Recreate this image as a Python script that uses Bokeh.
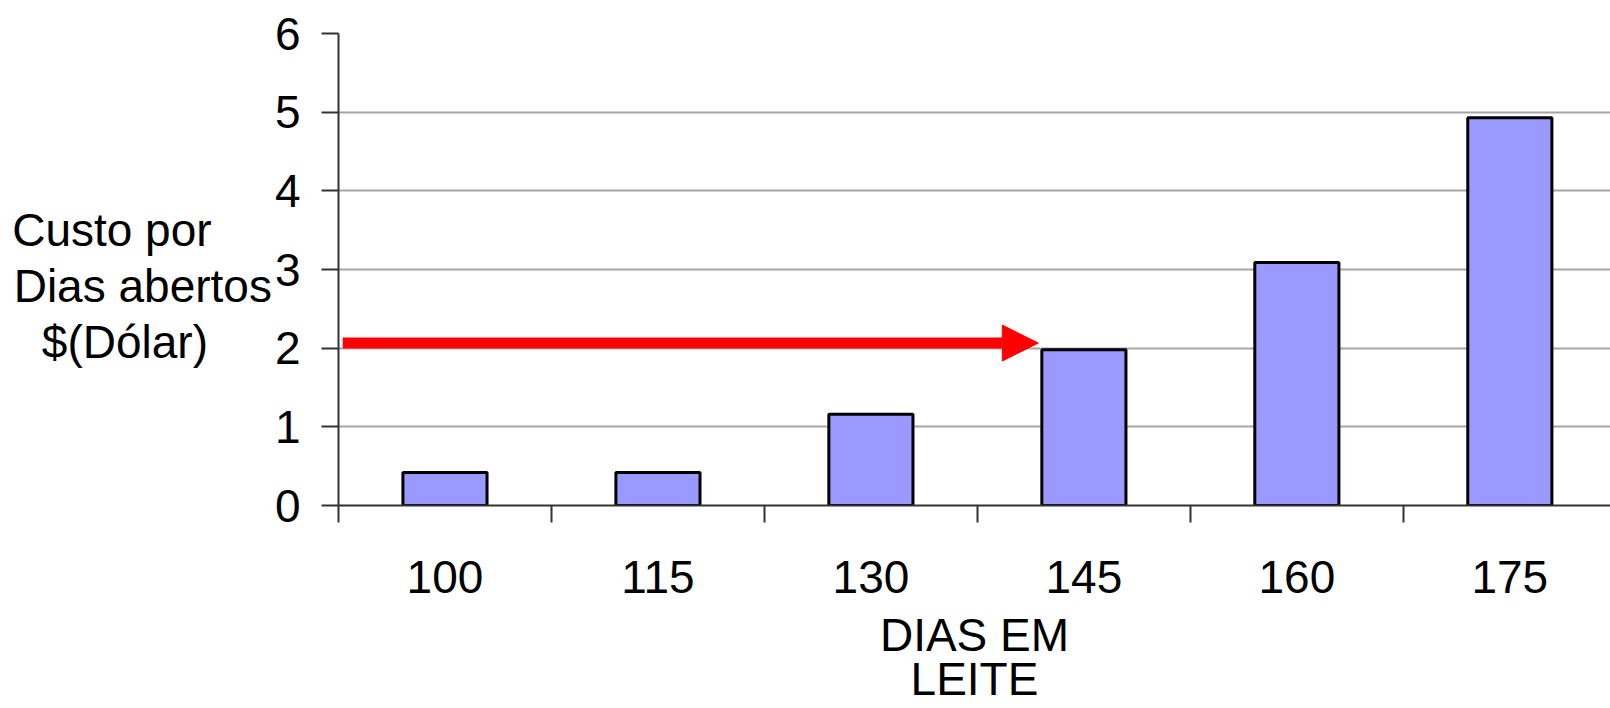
from bokeh.plotting import figure
from bokeh.models import Range1d, FixedTicker, Arrow, NormalHead
from bokeh.embed import file_html
from bokeh.resources import INLINE

# Dias em leite (categorias) e custo por dia aberto, em dólar
categories = ["100", "115", "130", "145", "160", "175"]
custo = [0.42, 0.42, 1.16, 1.98, 3.09, 4.93]
y_ticks = [0, 1, 2, 3, 4, 5, 6]

# seta de destaque: nível de custo e posição final (índice de categoria)
arrow_level = 2.065
arrow_from = -0.48
arrow_to = 2.786

FONT = "Liberation Sans"
FS = "46px"
NBSP = "\u00a0"

# geometria da área de plotagem em pixels
LEFT, TOP, BOTTOM_PX, W, H = 338, 33, 505, 1610, 708
CAT_PX = 212.97
X0 = -0.5
X1 = X0 + (W - LEFT) / CAT_PX

p = figure(width=W, height=H, x_range=Range1d(X0, X1), y_range=Range1d(0, 6),
           output_backend="svg", toolbar_location=None,
           min_border_left=LEFT, min_border_right=0,
           min_border_top=TOP, min_border_bottom=H - BOTTOM_PX)
p.outline_line_color = None
p.background_fill_color = "white"
p.border_fill_color = "white"

xs = list(range(len(categories)))
p.vbar(x=xs, top=custo, bottom=0, width=0.395,
       fill_color="#9999FF", line_color="black", line_width=3)

# eixo x: rótulos no centro das categorias, marcas entre elas
xa = p.xaxis[0]
xa.ticker = FixedTicker(ticks=xs, minor_ticks=[i - 0.5 for i in range(len(categories) + 1)])
xa.major_label_overrides = {i: c for i, c in enumerate(categories)}
xa.major_tick_out = 0
xa.major_tick_in = 0
xa.minor_tick_out = 17
xa.minor_tick_in = 0
xa.minor_tick_line_color = "#333333"
xa.minor_tick_line_width = 2
xa.axis_line_color = "#333333"
xa.axis_line_width = 2
xa.major_label_standoff = 38
xa.major_label_text_font = FONT
xa.major_label_text_font_size = FS
xa.major_label_text_color = "black"
xa.axis_label = "DIAS EM\nLEITE"
xa.axis_label_standoff = 13
xa.axis_label_text_font = FONT
xa.axis_label_text_font_size = FS
xa.axis_label_text_font_style = "normal"
xa.axis_label_text_color = "black"
xa.axis_label_text_line_height = 0.86

ya = p.yaxis[0]
ya.ticker = FixedTicker(ticks=y_ticks)
ya.major_tick_out = 17
ya.major_tick_in = 0
ya.minor_tick_out = 0
ya.minor_tick_in = 0
ya.major_tick_line_color = "#333333"
ya.major_tick_line_width = 2
ya.axis_line_color = "#333333"
ya.axis_line_width = 2
ya.major_label_standoff = 21
ya.major_label_text_font = FONT
ya.major_label_text_font_size = FS
ya.major_label_text_color = "black"
# título em três linhas, centrado no topo do eixo; as linhas vazias iniciais
# o empurram para baixo até a altura do valor 3; espaços finais alinham à esquerda
ya.axis_label = ("\n" * 9 + "Custo por" + NBSP * 4 + "\u2009" +
                 "\nDias abertos" +
                 "\n$(Dólar)" + NBSP * 5)
ya.axis_label_orientation = "horizontal"
ya.axis_label_align = "end"
ya.axis_label_standoff = 0
ya.axis_label_text_font = FONT
ya.axis_label_text_font_size = FS
ya.axis_label_text_font_style = "normal"
ya.axis_label_text_color = "black"
ya.axis_label_text_line_height = 1.078

p.xgrid.grid_line_color = None
p.ygrid.ticker = FixedTicker(ticks=y_ticks)
p.ygrid.grid_line_color = "#a6a6a6"
p.ygrid.grid_line_width = 2

p.add_layout(Arrow(end=NormalHead(size=36, fill_color="red", line_color="red", line_width=1),
                   x_start=arrow_from, y_start=arrow_level,
                   x_end=arrow_to, y_end=arrow_level,
                   line_color="red", line_width=11))

open("out.html", "w").write(file_html(p, INLINE))
